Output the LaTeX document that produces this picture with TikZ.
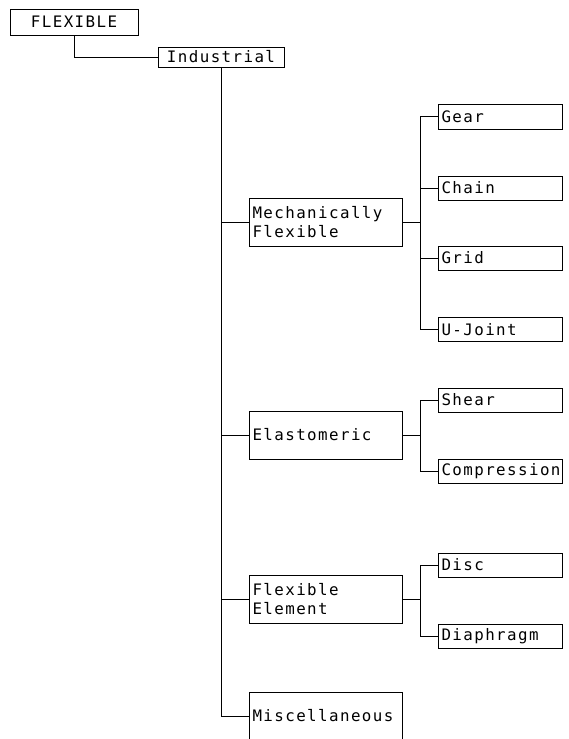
\documentclass[tikz,border=0pt]{standalone}
\usepackage{fontspec}
\usepackage{tikz}
\usetikzlibrary{positioning,calc}
\pgfdeclarelayer{edgelayer}
\pgfdeclarelayer{nodelayer}
\pgfsetlayers{edgelayer,nodelayer,main}
\newfontfamily\plotfont[LetterSpace=9]{DejaVu Sans Mono}
\tikzstyle{box}=[draw=black,line width=0.5pt,fill=white,rectangle,inner xsep=0.07cm,inner ysep=0pt,font=\plotfont\fontsize{9}{10.8}\selectfont]
\tikzstyle{rootbox}=[box,minimum width=2.56cm,minimum height=0.52cm]
\tikzstyle{topbox}=[box,minimum width=2.52cm,minimum height=0.40cm]
\tikzstyle{catbox}=[box,text width=2.92cm,align=left,minimum height=0.96cm]
\tikzstyle{leafbox}=[box,text width=2.34cm,align=left,minimum height=0.48cm]
\tikzstyle{wire}=[line width=0.5pt]

\begin{document}
\begin{tikzpicture}
	\useasboundingbox (0, 0) rectangle (11.36, -14.78);
	\clip (0, 0) rectangle (11.36, -14.78);
	\begin{pgfonlayer}{nodelayer}
		\node [style=rootbox] (flex) at (1.48, -0.44) {FLEXIBLE};
		\node [style=topbox] (ind) at (4.42, -1.14) {Industrial};
		\node [style=catbox] (mech) at (6.51, -4.44) {Mechanically\\Flexible};
		\node [style=catbox] (elas) at (6.51, -8.70) {Elastomeric};
		\node [style=catbox] (felem) at (6.51, -11.99) {Flexible\\Element};
		\node [style=catbox] (misc) at (6.51, -14.32) {Miscellaneous};
		\node [style=leafbox, minimum height=0.5cm] (gear) at (10.00, -2.33) {Gear};
		\node [style=leafbox] (chain) at (10.00, -3.76) {Chain};
		\node [style=leafbox] (grid) at (10.00, -5.16) {Grid};
		\node [style=leafbox] (ujoint) at (10.00, -6.59) {U-Joint};
		\node [style=leafbox] (shear) at (10.00, -8.00) {Shear};
		\node [style=leafbox] (comp) at (10.00, -9.42) {Compression};
		\node [style=leafbox] (disc) at (10.00, -11.30) {Disc};
		\node [style=leafbox] (diaph) at (10.00, -12.72) {Diaphragm};
		\coordinate (jm) at (8.40, -4.44);
		\coordinate (je) at (8.40, -8.70);
		\coordinate (jf) at (8.40, -11.99);
	\end{pgfonlayer}
	\begin{pgfonlayer}{edgelayer}
		\draw [style=wire] (flex.south) |- (ind.west);
		\draw [style=wire] (ind.south) |- (mech.west);
		\draw [style=wire] (ind.south) |- (elas.west);
		\draw [style=wire] (ind.south) |- (felem.west);
		\draw [style=wire] (ind.south) |- (misc.west);
		\draw [style=wire] (mech.east) -- (jm);
		\foreach \leaf in {gear,chain,grid,ujoint}
			\draw [style=wire] (jm) |- (\leaf.west);
		\draw [style=wire] (elas.east) -- (je);
		\foreach \leaf in {shear,comp}
			\draw [style=wire] (je) |- (\leaf.west);
		\draw [style=wire] (felem.east) -- (jf);
		\foreach \leaf in {disc,diaph}
			\draw [style=wire] (jf) |- (\leaf.west);
	\end{pgfonlayer}
\end{tikzpicture}
\end{document}
